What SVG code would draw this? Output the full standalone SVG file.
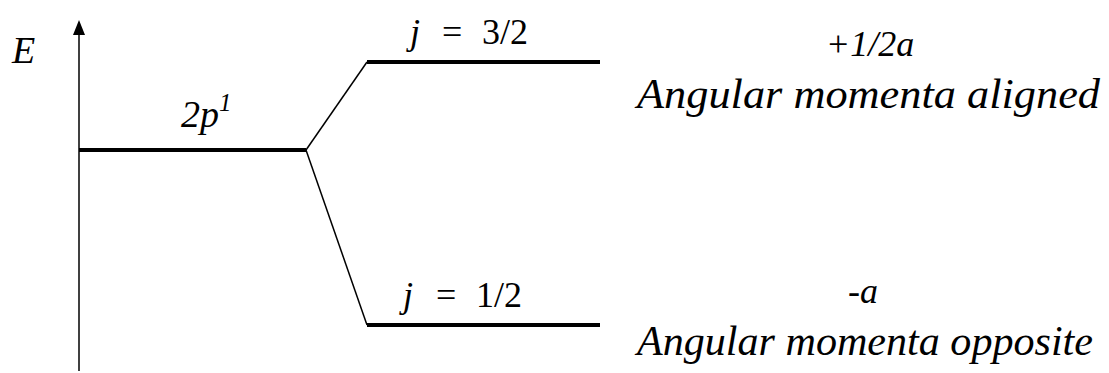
<svg xmlns="http://www.w3.org/2000/svg" width="1109" height="373" viewBox="0 0 1109 373">
<style>
text{font-family:'Liberation Serif',Tinos,'Times New Roman',serif;fill:#000}
.i{font-style:italic}
.lvl{stroke:#000;stroke-width:4;fill:none}
.ln{stroke:#000;stroke-width:1.5;fill:none}
</style>
<rect width="1109" height="373" fill="#fff"/>
<g id="axis">
<line x1="79" y1="371" x2="79" y2="30" class="ln"/>
<path d="M73,35 L79,20 L85,35 Z" fill="#000"/>
<text x="12" y="63" class="i" font-size="38">E</text>
</g>
<g id="connectors">
<line x1="306" y1="150" x2="367" y2="62" class="ln"/>
<line x1="306" y1="150" x2="367" y2="325" class="ln"/>
</g>
<g id="level-2p">
<line x1="79" y1="150" x2="306" y2="150" class="lvl"/>
<text x="181" y="127" class="i" font-size="38">2p<tspan font-size="25" dy="-16">1</tspan></text>
</g>
<g id="level-j32">
<line x1="367" y1="62" x2="600" y2="62" class="lvl"/>
<text x="410" y="44" font-size="36"><tspan class="i">j</tspan> <tspan x="442">=</tspan> <tspan x="482">3/2</tspan></text>
<text x="870" y="56" class="i" font-size="36" text-anchor="middle">+1/2a</text>
<text x="637" y="108" class="i" font-size="42" textLength="463" lengthAdjust="spacingAndGlyphs">Angular momenta aligned</text>
</g>
<g id="level-j12">
<line x1="367" y1="325" x2="600" y2="325" class="lvl"/>
<text x="403" y="307" font-size="36"><tspan class="i">j</tspan> <tspan x="436">=</tspan> <tspan x="476">1/2</tspan></text>
<text x="863" y="303" class="i" font-size="36" text-anchor="middle">-a</text>
<text x="637" y="355" class="i" font-size="42" textLength="456" lengthAdjust="spacingAndGlyphs">Angular momenta opposite</text>
</g>
</svg>
